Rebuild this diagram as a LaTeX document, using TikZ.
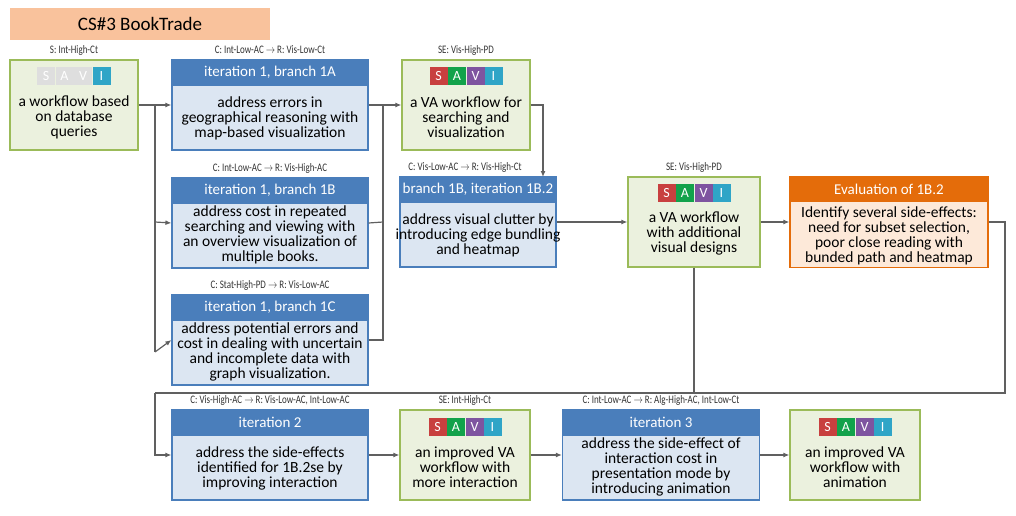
\documentclass[tikz,border=0pt]{standalone}
\usepackage{fontspec}
\setmainfont{Carlito}
\usetikzlibrary{arrows.meta}
\definecolor{hb}{HTML}{4A7EBB}
\definecolor{bb}{HTML}{DCE6F2}
\definecolor{gb}{HTML}{EBF1DE}
\definecolor{gbd}{HTML}{9BBB59}
\definecolor{oh}{HTML}{E46C0A}
\definecolor{ob}{HTML}{FDE9D9}
\definecolor{tt}{HTML}{F9C29C}
\definecolor{cS}{HTML}{C8403F}
\definecolor{cA}{HTML}{12A24B}
\definecolor{cV}{HTML}{7E54A0}
\definecolor{cI}{HTML}{2FA5C7}
\definecolor{ln}{HTML}{606060}
\tikzset{
 bluebox/.style={draw=hb,line width=1.2pt,fill=bb,minimum width=196,minimum height=90,inner sep=0},
 greenbox/.style={draw=gbd,line width=1.2pt,fill=gb,minimum width=128,minimum height=90,inner sep=0},
 orangebox/.style={draw=oh,line width=1.2pt,fill=ob,minimum width=198,minimum height=91,inner sep=0},
 hdr/.style={anchor=north,minimum height=26,inner sep=0,text=white,font=\fontsize{15}{16}\selectfont},
 body/.style={align=center,font=\fontsize{15.5}{15}\selectfont,inner sep=0},
 lab/.style={font=\fontsize{11.5}{12}\selectfont,inner sep=0,text=black!80},
 sq/.style={minimum size=18,inner sep=0,text=white,font=\fontsize{14}{14}\selectfont},
 con/.style={draw=ln,line width=1.2pt},
 arr/.style={con,-{Latex[length=6,width=5]}}
}
\newcommand{\cond}[1]{\scalebox{0.78}[1]{#1}}
\begin{document}
\begin{tikzpicture}[x=1pt,y=-1pt]
\useasboundingbox (0,0) rectangle (1016,516);
\node[fill=tt,minimum width=260,minimum height=32,inner sep=0,font=\fontsize{19}{20}\selectfont] (title) at (140,24) {CS\#3 BookTrade};

% S box
\node[greenbox] (s0) at (74,105) {};
\node[lab] (ls0) at (74,50) {\cond{S: Int-High-Ct}};
\foreach \l [count=\i] in {S,A,V}{\node[sq,fill=black!13] (s0q\i) at (74-28+\i*18.5-18.5,76) {\l};}
\node[sq,fill=cI] (s0q4) at (74+27.5,76) {I};
\node[body] (s0t) at (74,117) {a workflow based\\on database\\queries};

% 1A
\node[bluebox] (b1a) at (270,105) {};
\node[hdr,fill=hb,minimum width=196] (h1a) at (b1a.north) {iteration 1, branch 1A};
\node[lab] (l1a) at (270,50) {\cond{C: Int-Low-AC $\rightarrow$ R: Vis-Low-Ct}};
\node[body] (t1a) at (270,118) {address errors in\\geographical reasoning with\\map-based visualization};

% 1B
\node[bluebox] (b1b) at (270,223) {};
\node[hdr,fill=hb,minimum width=196] (h1b) at (b1b.north) {iteration 1, branch 1B};
\node[lab] (l1b) at (270,168) {\cond{C: Int-Low-AC $\rightarrow$ R: Vis-High-AC}};
\node[body] (t1b) at (270,235) {address cost in repeated\\searching and viewing with\\an overview visualization of\\multiple books.};

% 1C
\node[bluebox] (b1c) at (270,340) {};
\node[hdr,fill=hb,minimum width=196] (h1c) at (b1c.north) {iteration 1, branch 1C};
\node[lab] (l1c) at (270,285) {\cond{C: Stat-High-PD $\rightarrow$ R: Vis-Low-AC}};
\node[body] (t1c) at (270,352) {address potential errors and\\cost in dealing with uncertain\\and incomplete data with\\graph visualization.};

% SE1
\node[greenbox] (se1) at (466,105) {};
\node[lab] (lse1) at (466,50) {\cond{SE: Vis-High-PD}};
\node[sq,fill=cS] (se1q1) at (466-27.5,76) {S};
\node[sq,fill=cA] (se1q2) at (466-9,76) {A};
\node[sq,fill=cV] (se1q3) at (466+9.5,76) {V};
\node[sq,fill=cI] (se1q4) at (466+27.5,76) {I};
\node[body] (se1t) at (466,117) {a VA workflow for\\searching and\\visualization};

% 1B.2
\node[bluebox,minimum width=156] (b12) at (478,222) {};
\node[hdr,fill=hb,minimum width=156] (h12) at (b12.north) {branch 1B, iteration 1B.2};
\node[lab] (l12) at (465,167) {\cond{C: Vis-Low-AC $\rightarrow$ R: Vis-High-Ct}};
\node[body] (t12) at (478,235) {address visual clutter by\\introducing edge bundling\\and heatmap};

% SE2
\node[greenbox,minimum width=132] (se2) at (694,222) {};
\node[lab] (lse2) at (694,167) {\cond{SE: Vis-High-PD}};
\node[sq,fill=cS] (se2q1) at (694-27.5,193) {S};
\node[sq,fill=cA] (se2q2) at (694-9,193) {A};
\node[sq,fill=cV] (se2q3) at (694+9.5,193) {V};
\node[sq,fill=cI] (se2q4) at (694+27.5,193) {I};
\node[body] (se2t) at (694,233) {a VA workflow\\with additional\\visual designs};

% Eval
\node[orangebox] (ev) at (889,222) {};
\node[hdr,fill=oh,minimum width=198] (hev) at (ev.north) {Evaluation of 1B.2};
\node[body] (tev) at (889,236) {Identify several side-effects:\\need for subset selection,\\poor close reading with\\bunded path and heatmap};

% iter2
\node[bluebox] (b2) at (270,455) {};
\node[hdr,fill=hb,minimum width=196] (h2) at (b2.north) {iteration 2};
\node[lab] (l2) at (270,400) {\cond{C: Vis-High-AC $\rightarrow$ R: Vis-Low-AC, Int-Low-AC}};
\node[body] (t2) at (270,468) {address the side-effects\\identified for 1B.2se by\\improving interaction};

% SE3
\node[greenbox,minimum width=130] (se3) at (465,455) {};
\node[lab] (lse3) at (465,400) {\cond{SE: Int-High-Ct}};
\node[sq,fill=cS] (se3q1) at (465-27.5,427) {S};
\node[sq,fill=cA] (se3q2) at (465-9,427) {A};
\node[sq,fill=cV] (se3q3) at (465+9.5,427) {V};
\node[sq,fill=cI] (se3q4) at (465+27.5,427) {I};
\node[body] (se3t) at (465,467) {an improved VA\\workflow with\\more interaction};

% iter3
\node[bluebox,minimum width=197] (b3) at (661,455) {};
\node[hdr,fill=hb,minimum width=197] (h3) at (b3.north) {iteration 3};
\node[lab] (l3) at (661,400) {\cond{C: Int-Low-AC $\rightarrow$ R: Alg-High-AC, Int-Low-Ct}};
\node[body] (t3) at (661,467) {address the side-effect of\\interaction cost in\\presentation mode by\\introducing animation};

% SE4
\node[greenbox,minimum width=130] (se4) at (855,455) {};
\node[sq,fill=cS] (se4q1) at (855-27.5,427) {S};
\node[sq,fill=cA] (se4q2) at (855-9,427) {A};
\node[sq,fill=cV] (se4q3) at (855+9.5,427) {V};
\node[sq,fill=cI] (se4q4) at (855+27.5,427) {I};
\node[body] (se4t) at (855,467) {an improved VA\\workflow with\\animation};

% connectors
\coordinate (j1) at (155,105);
\coordinate (j2) at (383,105);
\coordinate (j3) at (694,393);
\coordinate (j4) at (155,393);
\draw[con] (s0.east) -- (j1) -- (155,352);
\draw[arr] (j1) -- (b1a.west);
\draw[arr] (155,222) -- (b1b.west);
\draw[arr] (155,352) -- (b1c.west);
\draw[con] (b1a.east) -- (j2);
\draw[con] (b1b.east) -- (383,222);
\draw[con] (b1c.east) -- (383,340) -- (j2);
\draw[arr] (j2) -- (se1.west);
\draw[arr] (se1.east) -- (543,105) -- (543,177);
\draw[arr] (b12.east) -- (se2.west);
\draw[arr] (se2.east) -- (ev.west);
\draw[con] (se2.south) -- (j3);
\draw[con] (ev.east) -- (1005,222) -- (1005,393) -- (j4);
\draw[arr] (j4) -- (155,455) -- (b2.west);
\draw[arr] (b2.east) -- (se3.west);
\draw[arr] (se3.east) -- (b3.west);
\draw[arr] (b3.east) -- (se4.west);
\end{tikzpicture}
\end{document}
